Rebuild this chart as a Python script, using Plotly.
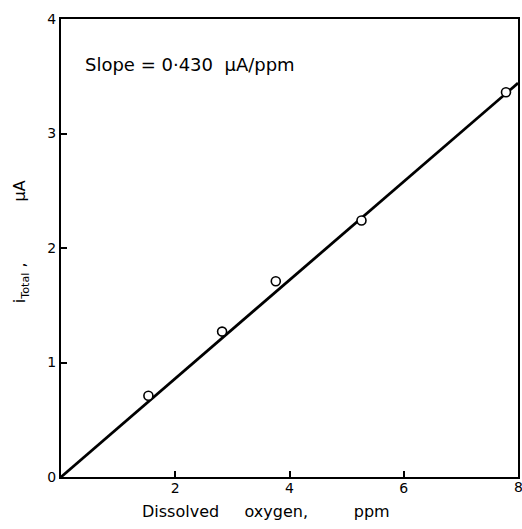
import plotly.graph_objects as go

# Data
oxygen_ppm = [1.53, 2.82, 3.76, 5.26, 7.79]
i_total_uA = [0.71, 1.27, 1.71, 2.24, 3.36]
slope = 0.430
fit_x = [0, 8]
fit_y = [slope * v for v in fit_x]

x_tickvals = [2, 4, 6]
y_tickvals = [0, 1, 2, 3, 4]

FONT = "DejaVu Sans"
NB = "\u00a0"

fig = go.Figure()
fig.add_trace(go.Scatter(x=fit_x, y=fit_y, mode="lines",
                         line=dict(color="black", width=2.8),
                         showlegend=False, hoverinfo="skip"))
fig.add_trace(go.Scatter(x=oxygen_ppm, y=i_total_uA, mode="markers",
                         marker=dict(symbol="circle", size=9, color="white",
                                     line=dict(color="black", width=1.6)),
                         showlegend=False))

fig.update_layout(
    width=522, height=529,
    margin=dict(l=61, r=2, t=19, b=52),
    plot_bgcolor="white", paper_bgcolor="white",
    font=dict(family=FONT, color="black", size=14),
    xaxis=dict(range=[0, 8], tickvals=x_tickvals, ticks="inside", ticklen=6,
               tickwidth=1.5, tickcolor="black", showgrid=False, zeroline=False,
               showline=True, linecolor="black", linewidth=2, mirror=True,
               ticklabelstandoff=-3,
               tickfont=dict(size=14, family=FONT)),
    yaxis=dict(range=[0, 4], tickvals=y_tickvals, ticks="inside", ticklen=6,
               tickwidth=1.5, tickcolor="black", showgrid=False, zeroline=False,
               showline=True, linecolor="black", linewidth=2, mirror=True,
               tickfont=dict(size=14, family=FONT)),
)

# last x tick label (at the page edge like the reference)
fig.add_annotation(text="8", xref="x", yref="paper", x=8, y=-0.0218,
                   xanchor="center", yanchor="middle", showarrow=False,
                   font=dict(size=14, family=FONT))

fig.add_annotation(text="Slope" + NB + "=" + NB + "0\u00b7430" + NB * 2 + "\u03bcA/ppm",
                   xref="paper", yref="paper",
                   x=0.048, y=0.8996, xanchor="left", yanchor="middle",
                   showarrow=False, font=dict(size=18, family=FONT))
fig.add_annotation(text="Dissolved" + NB * 5 + "oxygen," + NB * 9 + "ppm",
                   xref="paper", yref="paper", x=0.449, y=-0.0764,
                   xanchor="center", yanchor="middle", showarrow=False,
                   font=dict(size=16, family=FONT))
fig.add_annotation(text="i<sub>Total</sub>" + NB + "," + NB * 12 + "\u03bcA",
                   xref="paper", yref="paper", x=-0.0893, y=0.513,
                   xanchor="center", yanchor="middle", textangle=-90,
                   showarrow=False, font=dict(size=16, family=FONT))

fig.write_html("out.html")
